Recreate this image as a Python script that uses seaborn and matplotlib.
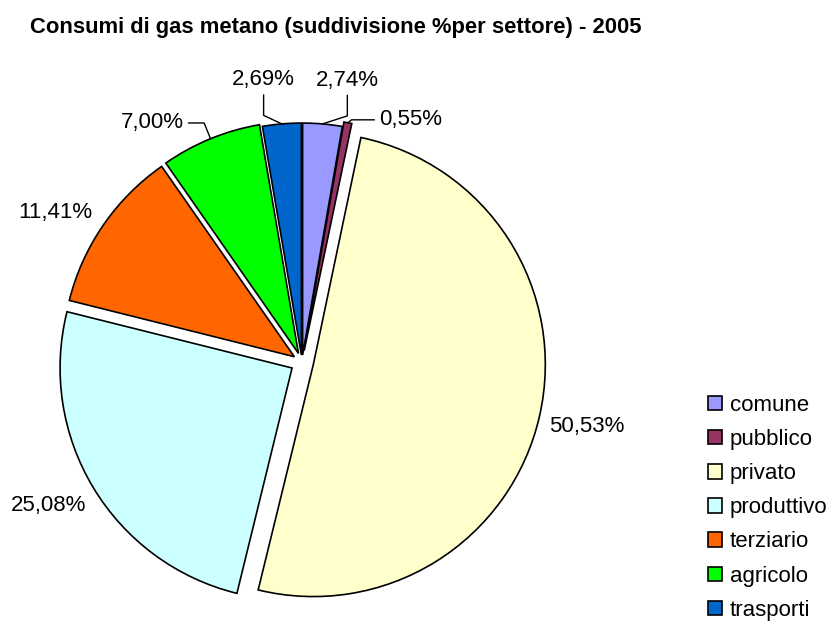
import numpy as np
import seaborn as sns
import matplotlib.pyplot as plt

# Consumi di gas metano 2005, quota % per settore
settori = ["comune", "pubblico", "privato", "produttivo", "terziario", "agricolo", "trasporti"]
quote = [2.74, 0.55, 50.53, 25.08, 11.41, 7.00, 2.69]
etichette = ["2,74%", "0,55%", "50,53%", "25,08%", "11,41%", "7,00%", "2,69%"]

colori = ["#9999FF", "#993366", "#FFFFCC", "#CCFFFF", "#FF6600", "#00FF00", "#0066CC"]
esplodi = [0.03, 0.05, 0.05, 0.05, 0.04, 0.04, 0.03]

# label placement: angle shift (deg, clockwise) and radius from the centre
spost = [4.2, 13.3, 0.0, 1.6, -3.3, -9.8, -2.9]
raggio = [1.231, 1.144, 1.26, 1.253, 1.245, 1.216, 1.228]
# leader lines for small slices (None = no line)
guida = ["angle,angleA=90,angleB=18,rad=0",
         "angle,angleA=0,angleB=38,rad=0",
         None, None, None,
         "angle,angleA=0,angleB=112,rad=0",
         "angle,angleA=90,angleB=155,rad=0"]

sns.set_theme(style="white")
plt.rcParams["font.family"] = ["Liberation Sans", "DejaVu Sans"]
plt.rcParams["text.color"] = "black"

fig = plt.figure(figsize=(8.29, 6.33), dpi=100)
L = 1.25
S = 580
ax = fig.add_axes([(302 - S / 2) / 829, (271 - S / 2) / 633, S / 829, S / 633])

wedges, _ = ax.pie(quote, colors=sns.color_palette(colori), explode=esplodi,
                   startangle=90, counterclock=False,
                   wedgeprops=dict(edgecolor="black", linewidth=1.2))
ax.set_xlim(-L, L)
ax.set_ylim(-L, L)
ax.set_aspect("equal")
ax.axis("off")

tot = sum(quote)
cum = np.cumsum([0] + quote[:-1])
for i, q in enumerate(quote):
    mid_cw = 360 * (cum[i] + q / 2) / tot
    th = np.radians(90 - mid_cw)
    tl = np.radians(90 - (mid_cw + spost[i]))
    tx, ty = raggio[i] * np.cos(tl), raggio[i] * np.sin(tl)
    if guida[i] is None:
        ax.text(tx, ty, etichette[i], ha="center", va="center", fontsize=16)
    else:
        r0 = 1 + esplodi[i]
        ax.annotate(etichette[i], xy=(r0 * np.cos(th), r0 * np.sin(th)),
                    xytext=(tx, ty), ha="center", va="center", fontsize=16,
                    arrowprops=dict(arrowstyle="-", color="black", lw=1,
                                    connectionstyle=guida[i],
                                    shrinkA=1, shrinkB=0))

fig.text(30 / 829, 1 - 33 / 633,
         "Consumi di gas metano (suddivisione %per settore) - 2005",
         fontsize=15.8, fontweight="bold", ha="left", va="baseline")

fig.legend(wedges, settori, loc="upper left", bbox_to_anchor=(708 / 829, 1 - 395 / 633),
           frameon=False, fontsize=16, handlelength=0.62, handleheight=0.62,
           handletextpad=0.36, labelspacing=0.59, borderpad=0, borderaxespad=0)

fig.savefig("out.png", dpi=100)
